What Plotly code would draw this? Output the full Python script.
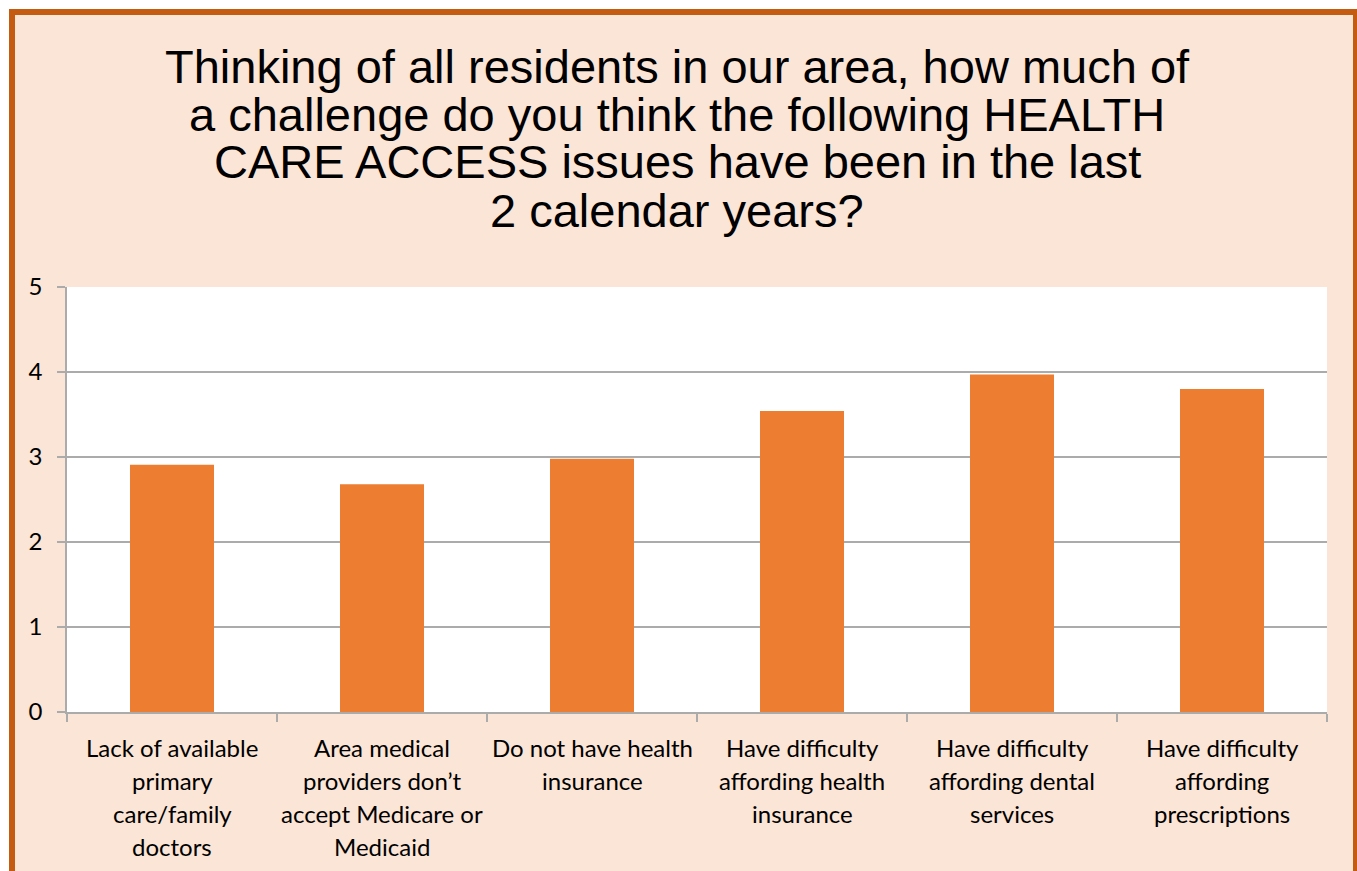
import plotly.graph_objects as go

# Survey categories (line breaks as shown under each bar)
categories = [
    "Lack of available<br>primary<br>care/family<br>doctors",
    "Area medical<br>providers don’t<br>accept Medicare or<br>Medicaid",
    "Do not have health<br>insurance",
    "Have difficulty<br>affording health<br>insurance",
    "Have difficulty<br>affording dental<br>services",
    "Have difficulty<br>affording<br>prescriptions",
]
# Mean challenge rating per issue
ratings = [2.91, 2.68, 2.98, 3.54, 3.97, 3.80]

title_lines = [
    "Thinking of all residents in our area, how much of",
    "a challenge do you think the following HEALTH",
    "CARE ACCESS issues have been in the last",
    "2 calendar years?",
]
y_ticks = [0, 1, 2, 3, 4, 5]

W, H = 1357, 871
ML, MR, MT, MB = 67, 30, 287, 159
PW, PH = W - ML - MR, H - MT - MB

def px_x(px):
    return (px - ML) / PW

def px_y(py):
    return (H - MB - py) / PH

BG = "#FBE5D6"
FRAME = "#C55A11"
BAR = "#ED7D31"
GRID = "#ABABAB"
LABEL_FONT = "Lato, Calibri, Carlito, sans-serif"

fig = go.Figure(
    go.Bar(
        x=list(range(len(categories))),
        y=ratings,
        marker=dict(color=BAR, line=dict(width=0)),
        width=0.4,
        hoverinfo="skip",
    )
)

shapes = [
    # peach panel with dark orange frame
    dict(type="rect", xref="paper", yref="paper",
         x0=px_x(12), x1=px_x(1356), y0=px_y(900), y1=px_y(12),
         fillcolor=BG, line=dict(color=FRAME, width=6), layer="below"),
    # white plotting area
    dict(type="rect", xref="paper", yref="paper",
         x0=0, x1=1, y0=0, y1=1,
         fillcolor="white", line=dict(width=0), layer="below"),
]

annotations = []
title_y = [66, 114, 162, 210]
for line, yy in zip(title_lines, title_y):
    annotations.append(dict(
        text=line, xref="paper", yref="paper", x=px_x(677), y=px_y(yy),
        xanchor="center", yanchor="middle", showarrow=False,
        font=dict(family="Liberation Sans, Arial, sans-serif", size=47, color="black"),
    ))

label_y = [747, 780, 813, 846]
for i, cat in enumerate(categories):
    for j, line in enumerate(cat.split("<br>")):
        annotations.append(dict(
            text=line, xref="x", yref="paper", x=i, y=px_y(label_y[j]),
            xanchor="center", yanchor="middle", showarrow=False,
            font=dict(family=LABEL_FONT, size=24, color="black"),
        ))

fig.update_layout(
    width=W, height=H,
    margin=dict(l=ML, r=MR, t=MT, b=MB, pad=0),
    paper_bgcolor="white",
    plot_bgcolor="rgba(0,0,0,0)",
    showlegend=False,
    shapes=shapes,
    annotations=annotations,
    bargap=0.6,
)

fig.update_xaxes(
    type="linear",
    range=[-0.5, len(categories) - 0.5],
    tickmode="array",
    tickvals=[i - 0.5 for i in range(len(categories) + 1)],
    showticklabels=False,
    ticks="outside", ticklen=8, tickwidth=1.5, tickcolor=GRID,
    showline=True, linecolor=GRID, linewidth=1.5,
    showgrid=False, zeroline=False, automargin=False,
)

fig.update_yaxes(
    range=[0, 5],
    tickmode="array", tickvals=y_ticks, ticktext=[str(v) for v in y_ticks],
    ticks="outside", ticklen=8, tickwidth=1.5, tickcolor=GRID,
    ticklabelstandoff=10,
    tickfont=dict(family=LABEL_FONT, size=24, color="black"),
    showline=True, linecolor=GRID, linewidth=1.5,
    showgrid=True, gridcolor=GRID, gridwidth=1.5,
    zeroline=False, automargin=False,
)

fig.write_html("out.html")
